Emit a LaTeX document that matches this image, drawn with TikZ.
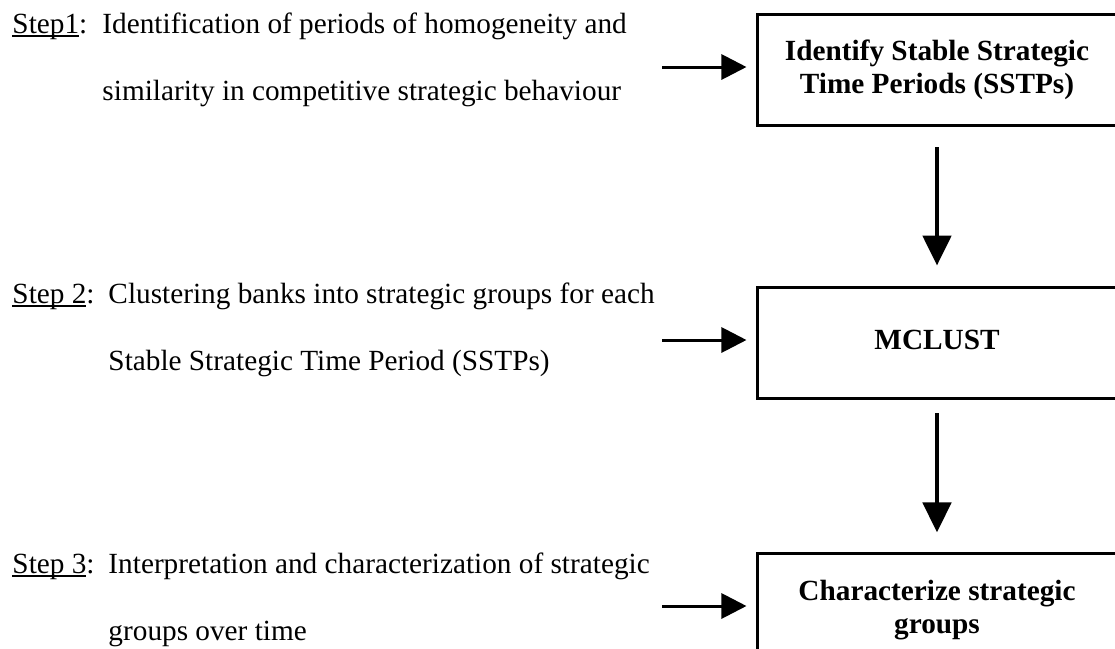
\documentclass[tikz,border=0pt]{standalone}
\usepackage{fontspec}
\setmainfont{Liberation Serif}
\usetikzlibrary{positioning,arrows.meta}
\newcommand{\stepline}[1]{\setbox0\hbox{#1}\rlap{\rule[-1.5pt]{\wd0}{0.8pt}}\box0}

\begin{document}
\begin{tikzpicture}[
    x=0.41pt, y=-0.41pt,
    font=\fontsize{12}{13.5}\selectfont,
    stepbox/.style={draw=black, line width=1.23pt, rectangle, minimum width=147.6pt, minimum height=45.9pt, inner sep=0pt, align=center, font=\fontsize{12}{13.5}\selectfont\bfseries},
    steptext/.style={anchor=base west, inner sep=0pt},
    feed/.style={-{Triangle[length=10.3pt,width=10.3pt]}, line width=1.23pt, shorten >=3.7pt},
    flow/.style={-{Triangle[length=12.3pt,width=11.5pt]}, line width=2pt, shorten >=8.2pt}
]
\useasboundingbox (0,0) rectangle (1115,649);
\clip (0,0) rectangle (1115,649);

% step descriptions
\node[steptext] (lab1) at (12,33) {\stepline{Step1}:};
\node[steptext] (s1a) at (102,33) {Identification of periods of homogeneity and};
\node[steptext] (s1b) at (102,100) {similarity in competitive strategic behaviour};
\node[steptext] (lab2) at (12,303) {\stepline{Step 2}:};
\node[steptext] (s2a) at (108,303) {Clustering banks into strategic groups for each};
\node[steptext] (s2b) at (108,370) {Stable Strategic Time Period (SSTPs)};
\node[steptext] (lab3) at (12,573) {\stepline{Step 3}:};
\node[steptext] (s3a) at (108,573) {Interpretation and characterization of strategic};
\node[steptext] (s3b) at (108,640) {groups over time};

% boxes
\node[stepbox] (identify) at (937,70) {Identify Stable Strategic\\Time Periods (SSTPs)};
\node[stepbox, below=64.8pt of identify] (mclust) {\strut MCLUST};
\node[stepbox, below=62.3pt of mclust] (characterize) {Characterize strategic\\groups};

% arrows
\coordinate (in1) at (662,67);
\coordinate (in2) at (662,340);
\coordinate (in3) at (662,606);
\draw[feed] (in1) -- (in1 -| identify.west);
\draw[feed] (in2) -- (in2 -| mclust.west);
\draw[feed] (in3) -- (in3 -| characterize.west);
\draw[flow, shorten <=8.2pt] (identify) -- (mclust);
\draw[flow, shorten <=5.3pt] (mclust) -- (characterize);

\end{tikzpicture}
\end{document}
